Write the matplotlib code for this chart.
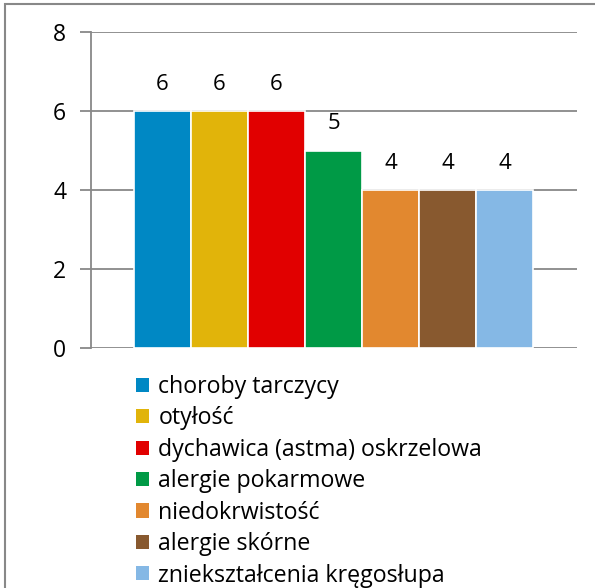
import matplotlib.pyplot as plt
from matplotlib.patches import Rectangle, Patch

# data
categories = ['choroby tarczycy', 'otyłość', 'dychawica (astma) oskrzelowa',
              'alergie pokarmowe', 'niedokrwistość', 'alergie skórne',
              'zniekształcenia kręgosłupa']
values = [6, 6, 6, 5, 4, 4, 4]
colors = ['#0088C4', '#E1B40A', '#E10000', '#009A46', '#E2882F', '#88592F', '#85B8E5']

plt.rcParams['font.family'] = ['Open Sans', 'DejaVu Sans']
grid_col = '#888888'

fig = plt.figure(figsize=(5.95, 5.88), dpi=100)
ax = fig.add_axes([91/595, 1 - 348/588, (577 - 91)/595, (348 - 32)/588])

x = list(range(len(values)))
bars = ax.bar(x, values, width=1.0, color=colors, edgecolor='white', linewidth=1.2, zorder=3)
for xi, v in zip(x, values):
    ax.text(xi, v + 0.68, str(v), ha='center', va='center', fontsize=16)

ax.set_xlim(-1.254, 7.27)
ax.set_ylim(0, 8)
ax.set_yticks([0, 2, 4, 6, 8])
ax.set_xticks([])
ax.yaxis.grid(True, color=grid_col, linewidth=1.3, zorder=0)
for s in ['top', 'right', 'bottom']:
    ax.spines[s].set_visible(False)
ax.spines['left'].set_color(grid_col)
ax.spines['left'].set_linewidth(1.3)
ax.tick_params(axis='y', length=8, width=1.3, color=grid_col, labelsize=16.5, pad=10)

handles = [Patch(facecolor=c, edgecolor='none') for c in colors]
leg = fig.legend(handles, categories, loc='upper left', bbox_to_anchor=(136/595, 1 - 375/588),
                 frameon=False, fontsize=16.7, handlelength=0.56, handleheight=0.56,
                 handletextpad=0.4, labelspacing=0.32, borderaxespad=0, borderpad=0)

fig.add_artist(Rectangle((5/595, -0.1), 1.2, 1.1 - 4/588, transform=fig.transFigure,
                         fill=False, edgecolor=grid_col, linewidth=1.5))

fig.savefig('out.png', dpi=100)
